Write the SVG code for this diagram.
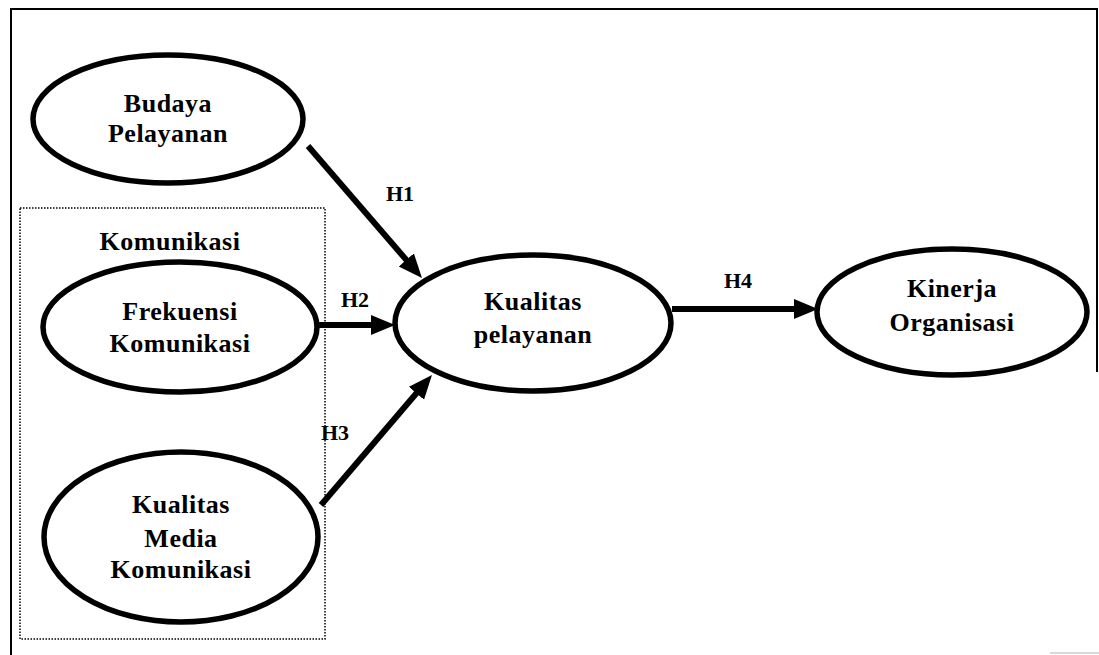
<svg xmlns="http://www.w3.org/2000/svg" width="1099" height="655" viewBox="0 0 1099 655">
  <style>
    .node ellipse { fill: #fff; stroke: #000; stroke-width: 5.5; }
    .lbl { font-family: "Liberation Serif", "Times New Roman", serif; font-weight: bold; font-size: 26px; letter-spacing: 0.5px; text-anchor: middle; fill: #000; }
    .h { font-family: "Liberation Serif", "Times New Roman", serif; font-weight: bold; font-size: 22px; fill: #000; }
    .edge { stroke: #000; stroke-width: 6; fill: none; marker-end: url(#arr); }
    .frame { stroke: #000; stroke-width: 2; fill: none; }
  </style>
  <defs>
    <marker id="arr" markerUnits="userSpaceOnUse" markerWidth="26" markerHeight="22" refX="2" refY="10" orient="auto" viewBox="0 0 26 20">
      <path d="M0,0 L24,10 L0,20 z" fill="#000"/>
    </marker>
  </defs>
  <rect width="1099" height="655" fill="#fff"/>
  <path class="frame" d="M11,655 L11,9 L1097,9 L1097,372"/>
  <line x1="1050" y1="653" x2="1099" y2="653" stroke="#ccc" stroke-width="1.5"/>

  <g id="komunikasi-group">
    <rect x="20" y="208" width="305" height="431" fill="none" stroke="#000" stroke-width="1.5" stroke-dasharray="1.5 1.5"/>
    <text class="lbl" x="170" y="250">Komunikasi</text>
  </g>

  <g id="connectors">
    <line class="edge" x1="308" y1="146" x2="407.6" y2="261.4"/>
    <line class="edge" x1="317" y1="325" x2="373" y2="325"/>
    <line class="edge" x1="321" y1="505" x2="417.7" y2="391.7"/>
    <line class="edge" x1="672" y1="309" x2="796" y2="309"/>
    <text class="h" x="386" y="201">H1</text>
    <text class="h" x="341" y="307">H2</text>
    <text class="h" x="321" y="440">H3</text>
    <text class="h" x="724" y="288">H4</text>
  </g>

  <g id="budaya-pelayanan" class="node">
    <ellipse cx="168" cy="119" rx="135" ry="64"/>
    <text class="lbl" x="168" y="112">Budaya</text>
    <text class="lbl" x="168" y="142">Pelayanan</text>
  </g>

  <g id="frekuensi-komunikasi" class="node">
    <ellipse cx="180" cy="327" rx="137" ry="65"/>
    <text class="lbl" x="180" y="320">Frekuensi</text>
    <text class="lbl" x="180" y="352">Komunikasi</text>
  </g>

  <g id="kualitas-media-komunikasi" class="node">
    <ellipse cx="181" cy="537" rx="137" ry="85"/>
    <text class="lbl" x="181" y="513">Kualitas</text>
    <text class="lbl" x="181" y="547">Media</text>
    <text class="lbl" x="181" y="578">Komunikasi</text>
  </g>

  <g id="kualitas-pelayanan" class="node">
    <ellipse cx="533" cy="323" rx="138" ry="68"/>
    <text class="lbl" x="533" y="310">Kualitas</text>
    <text class="lbl" x="533" y="343">pelayanan</text>
  </g>

  <g id="kinerja-organisasi" class="node">
    <ellipse cx="952" cy="312" rx="135" ry="63"/>
    <text class="lbl" x="952" y="297">Kinerja</text>
    <text class="lbl" x="952" y="331">Organisasi</text>
  </g>
</svg>
